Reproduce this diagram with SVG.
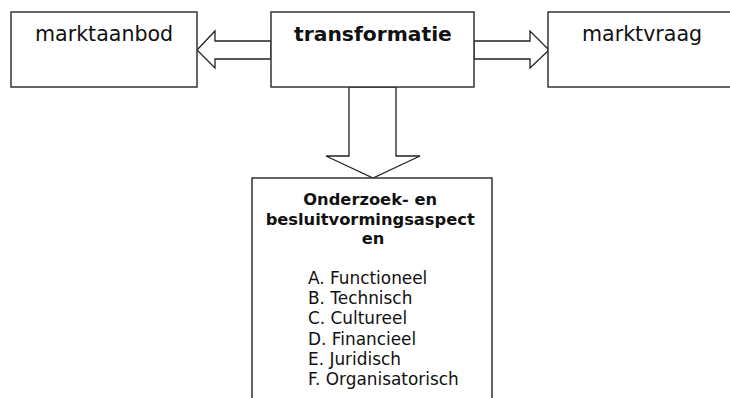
<svg xmlns="http://www.w3.org/2000/svg" width="730" height="398" viewBox="0 0 730 398">
<style>
.box{fill:#fff;stroke:#333;stroke-width:1.5}
.arr{fill:#fff;stroke:#222;stroke-width:1.3;stroke-linejoin:miter}
.t{font-family:"DejaVu Sans",Verdana,sans-serif;fill:#111}
.b{font-weight:bold}
</style>
<rect width="730" height="398" fill="#fff"/>
<g id="connectors">
<polygon class="arr" points="271,41 215,41 215,31 197,50 215,68 215,59 271,59"/>
<polygon class="arr" points="474,41 530,41 530,31 549,50 530,68 530,59 474,59"/>
<polygon class="arr" points="349,87 349,156 326,156 373,178 420,156 396,156 396,87"/>
</g>
<g id="marktaanbod">
<rect class="box" x="11" y="12" width="186" height="75"/>
<text class="t" x="35" y="41" font-size="20.6">marktaanbod</text>
</g>
<g id="transformatie">
<rect class="box" x="271" y="12" width="203" height="75"/>
<text class="t b" x="294" y="41" font-size="20.3">transformatie</text>
</g>
<g id="marktvraag">
<rect class="box" x="548" y="12" width="190" height="75"/>
<text class="t" x="582" y="41" font-size="20.6">marktvraag</text>
</g>
<g id="aspecten">
<rect class="box" x="252" y="178" width="240" height="230"/>
<text class="t b" font-size="16.3" text-anchor="middle">
<tspan x="373" y="205">Onderzoek- en</tspan>
<tspan x="373" y="225">besluitvormingsaspect</tspan>
<tspan x="373" y="244">en</tspan>
</text>
<text class="t" font-size="16.9">
<tspan x="308" y="284">A. Functioneel</tspan>
<tspan x="308" y="304">B. Technisch</tspan>
<tspan x="308" y="324">C. Cultureel</tspan>
<tspan x="308" y="345">D. Financieel</tspan>
<tspan x="308" y="365">E. Juridisch</tspan>
<tspan x="308" y="385">F. Organisatorisch</tspan>
</text>
</g>
</svg>
